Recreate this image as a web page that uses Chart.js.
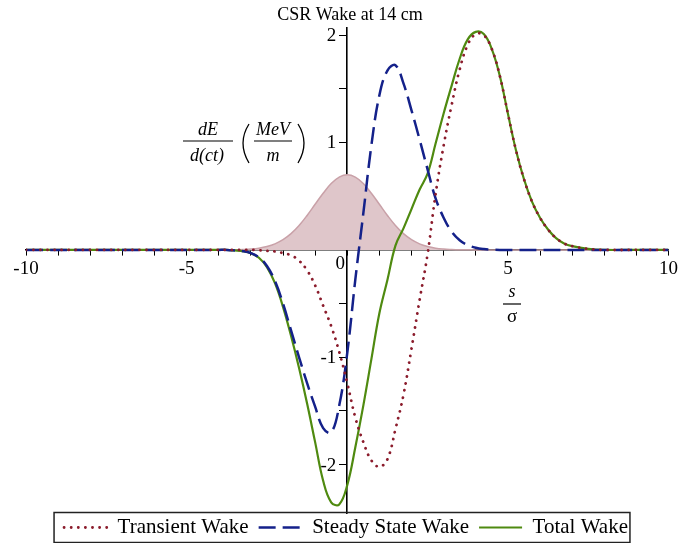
<!DOCTYPE html>
<html><head><meta charset="utf-8">
<script src="https://cdn.jsdelivr.net/npm/chart.js@4/dist/chart.umd.min.js"></script>
<style>html,body{margin:0;padding:0;background:#fff}#wrap{width:681px;height:543px}</style>
</head><body><div id="wrap"><canvas id="c" width="681" height="543"></canvas></div>
<script>
const S = [-10,-6,-4.5,-4,-3.75,-3.5,-3.25,-3,-2.75,-2.5,-2.25,-2,-1.75,-1.5,-1.25,-1,-0.75,-0.5,-0.25,0,0.25,0.5,0.75,1,1.25,1.5,1.75,2,2.25,2.5,2.75,3,3.25,3.5,3.75,4,4.25,4.5,4.75,5,5.25,5.5,5.75,6,6.25,6.5,6.75,7,7.5,8,9,10];
const transientWake = [0,0,0,0,0,0,0,0,-0.003,-0.008,-0.015,-0.03,-0.05,-0.10,-0.19,-0.33,-0.52,-0.71,-0.95,-1.24,-1.56,-1.79,-1.96,-2.02,-1.95,-1.67,-1.35,-0.92,-0.47,-0.04,0.52,0.97,1.35,1.68,1.91,2.01,2.00,1.87,1.62,1.27,0.93,0.66,0.45,0.30,0.19,0.11,0.06,0.035,0.01,0,0,0];
const steadyWake = [0,0,0,0,0,-0.005,-0.012,-0.03,-0.07,-0.15,-0.29,-0.50,-0.75,-1.00,-1.24,-1.46,-1.66,-1.70,-1.45,-0.96,-0.28,0.34,0.97,1.44,1.67,1.72,1.55,1.30,1.03,0.75,0.48,0.30,0.17,0.09,0.045,0.02,0.008,0.003,0,0,0,0,0,0,0,0,0,0,0,0,0,0];
const totalWake = [0,0,0,0,0,-0.005,-0.012,-0.03,-0.073,-0.16,-0.31,-0.53,-0.80,-1.10,-1.43,-1.79,-2.15,-2.35,-2.37,-2.19,-1.84,-1.45,-1.02,-0.59,-0.28,0.04,0.20,0.38,0.56,0.71,0.99,1.27,1.53,1.78,1.96,2.03,2.01,1.87,1.62,1.27,0.93,0.66,0.45,0.30,0.19,0.11,0.06,0.035,0.01,0,0,0];
const bunchProfile = [0,0,0,0,0.0006,0.0015,0.004,0.008,0.016,0.031,0.056,0.095,0.151,0.227,0.321,0.425,0.527,0.618,0.678,0.70,0.678,0.618,0.527,0.425,0.321,0.227,0.151,0.095,0.056,0.031,0.016,0.008,0.004,0.0015,0.0006,0,0,0,0,0,0,0,0,0,0,0,0,0,0,0,0,0];
const seriesNames = ['Transient Wake','Steady State Wake','Total Wake'];
const xLabelTicks = [-10,-5,5,10];
const yLabelTicks = [-2,-1,1,2];
const titleText = 'CSR Wake at 14 cm';

const pts = arr => S.map((s,i)=>({x:s,y:arr[i]}));
const SERIF = '"Liberation Serif", "Times New Roman", serif';
const LEGEND_PAD = 10, LEGEND_FONT = 21, LEGEND_SHIFT = 6, LEGEND_XSHIFT = 4;

const extras = {
  id:'extras',
  afterLayout(chart){
    if (chart.legend){
      chart.legend.top -= LEGEND_SHIFT;
      chart.legend.left -= LEGEND_XSHIFT;
      chart.legend.right -= LEGEND_XSHIFT;
    }
  },
  afterDraw(chart){
    const ctx = chart.ctx;
    const xs = chart.scales.x, ys = chart.scales.y;
    const x0 = xs.getPixelForValue(0), y0 = ys.getPixelForValue(0);
    ctx.save();
    ctx.fillStyle = '#000'; ctx.strokeStyle = '#000';
    ctx.font = '19px ' + SERIF;
    ctx.textAlign = 'right'; ctx.textBaseline = 'middle';
    yLabelTicks.forEach(v => ctx.fillText(String(v), x0 - 11, ys.getPixelForValue(v) + 1));
    ctx.textAlign = 'center';
    ctx.fillText('0', x0 - 7, y0 + 14);
    const sx = 512;
    ctx.font = 'italic 18px ' + SERIF;
    ctx.fillText('s', sx, 292);
    ctx.lineWidth = 1.2;
    ctx.beginPath(); ctx.moveTo(503, 304); ctx.lineTo(521, 304); ctx.stroke();
    ctx.font = '19px ' + SERIF;
    ctx.fillText('\u03C3', sx, 317);
    ctx.font = 'italic 18px ' + SERIF;
    ctx.fillText('dE', 208, 130);
    ctx.beginPath(); ctx.moveTo(183, 141); ctx.lineTo(233, 141); ctx.stroke();
    ctx.fillText('d(ct)', 207, 156);
    ctx.fillText('MeV', 273, 130);
    ctx.beginPath(); ctx.moveTo(254, 141); ctx.lineTo(292, 141); ctx.stroke();
    ctx.fillText('m', 273, 156);
    ctx.lineWidth = 1.3;
    ctx.beginPath(); ctx.moveTo(249, 124); ctx.quadraticCurveTo(237, 143, 249, 163); ctx.stroke();
    ctx.beginPath(); ctx.moveTo(298, 124); ctx.quadraticCurveTo(310, 143, 298, 163); ctx.stroke();
    const lg = chart.legend;
    if (lg && lg.legendHitBoxes && lg.legendHitBoxes.length){
      const hb = lg.legendHitBoxes;
      const l = Math.min(...hb.map(h=>h.left)) - LEGEND_XSHIFT - 6;
      const r = Math.max(...hb.map(h=>h.left+h.width)) - LEGEND_XSHIFT + 6;
      const itTop = lg.top + LEGEND_PAD;
      const t = itTop - 4.5;
      const b = itTop + LEGEND_FONT + 4.5;
      ctx.lineWidth = 1.5; ctx.strokeStyle = '#222';
      ctx.strokeRect(l, t, r-l, b-t);
    }
    ctx.restore();
  }
};

new Chart(document.getElementById('c'), {
  type:'line',
  data:{ datasets:[
    {label:seriesNames[0], data:pts(transientWake), borderColor:'#8b1c2c', backgroundColor:'#8b1c2c', borderWidth:2.8, borderDash:[0.1,7], borderCapStyle:'round', pointRadius:0, tension:0.4, fill:false, order:1},
    {label:seriesNames[1], data:pts(steadyWake), borderColor:'#14218a', backgroundColor:'#14218a', borderWidth:2.5, borderDash:[17,7], pointRadius:0, tension:0.4, fill:false, order:2},
    {label:seriesNames[2], data:pts(totalWake), borderColor:'#4f8a10', backgroundColor:'#4f8a10', borderWidth:2.2, pointRadius:0, tension:0.4, fill:false, order:3},
    {label:'Bunch', data:pts(bunchProfile), borderColor:'#c9a1a8', backgroundColor:'#dfc6ca', borderWidth:1.5, pointRadius:0, tension:0.4, fill:'origin', order:4}
  ]},
  options:{
    responsive:false, animation:false, devicePixelRatio:1,
    layout:{padding:{left:26, right:7, top:0, bottom:-11}},
    plugins:{
      title:{display:true, text:titleText, color:'#000', font:{family:SERIF, size:18, weight:'normal'}, padding:{top:4, bottom:2}},
      legend:{position:'bottom', labels:{
        filter:it=>it.datasetIndex<3, color:'#000', font:{family:SERIF, size:LEGEND_FONT},
        usePointStyle:true, pointStyle:'line', pointStyleWidth:43, boxHeight:LEGEND_FONT, padding:LEGEND_PAD,
        generateLabels(chart){
          const items = Chart.defaults.plugins.legend.labels.generateLabels(chart);
          items.forEach(it => {
            const ds = chart.data.datasets[it.datasetIndex];
            it.lineDash = ds.borderDash || [];
            it.lineCap = ds.borderCapStyle || 'butt';
            it.lineWidth = ds.borderWidth;
            it.strokeStyle = ds.borderColor;
            it.pointStyle = 'line';
          });
          return items;
        }}},
      tooltip:{enabled:false}
    },
    scales:{
      x:{type:'linear', min:-10, max:10, position:{y:0}, z:1,
         grid:{drawOnChartArea:false, drawTicks:true, tickLength:5, tickColor:'#000', tickWidth:1},
         border:{color:'#000', width:1.6},
         ticks:{stepSize:1, autoSkip:false, maxRotation:0, color:'#000', padding:3, font:{family:SERIF, size:19},
           callback:v=> xLabelTicks.includes(v) ? String(v) : ''}},
      y:{type:'linear', min:-2.45, max:2.07, position:{x:0}, z:1,
         grid:{drawOnChartArea:false, drawTicks:true, tickLength:7, tickColor:'#000', tickWidth:1},
         border:{color:'#000', width:1.6},
         ticks:{stepSize:0.5, includeBounds:false, autoSkip:false, color:'rgba(0,0,0,0)', padding:3, font:{family:SERIF, size:19},
           callback:v=> ''}}
    }
  },
  plugins:[extras]
});
</script></body></html>
